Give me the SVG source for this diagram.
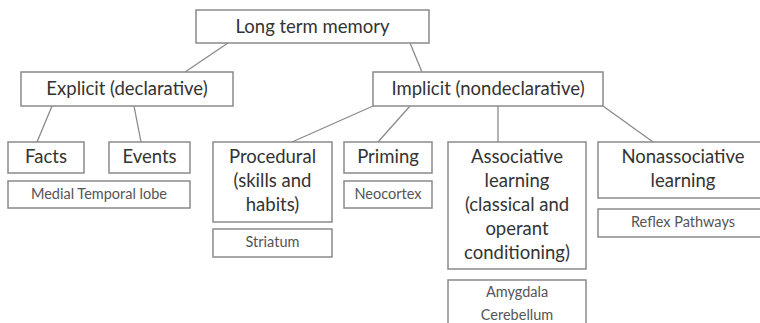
<svg xmlns="http://www.w3.org/2000/svg" width="760" height="323" viewBox="0 0 760 323">
<style>
.box{fill:#fff;stroke:#8a8a8a;stroke-width:1.5}
.t{font-family:Lato,"Open Sans",sans-serif;font-size:18.5px;fill:#333;text-anchor:middle}
.s{font-family:Lato,"Open Sans",sans-serif;font-size:14.5px;fill:#555;text-anchor:middle}
.c{stroke:#8a8a8a;stroke-width:1.3;fill:none}
</style>
<rect width="760" height="323" fill="#fff"/>
<g id="connectors">
<line class="c" x1="228" y1="43" x2="185" y2="72"/>
<line class="c" x1="410" y1="43" x2="422" y2="72"/>
<line class="c" x1="52" y1="106" x2="37" y2="142"/>
<line class="c" x1="134" y1="106" x2="141" y2="142"/>
<line class="c" x1="373" y1="106" x2="292" y2="142"/>
<line class="c" x1="410" y1="106" x2="378" y2="142"/>
<line class="c" x1="498" y1="106" x2="498" y2="142"/>
<line class="c" x1="603" y1="106" x2="653" y2="142"/>
</g>
<g id="ltm"><rect class="box" x="196" y="10" width="233" height="33"/><text class="t" x="312.5" y="33">Long term memory</text></g>
<g id="explicit"><rect class="box" x="21" y="72" width="212" height="34"/><text class="t" x="127" y="95">Explicit (declarative)</text></g>
<g id="implicit"><rect class="box" x="373" y="72" width="230" height="34"/><text class="t" x="488" y="95">Implicit (nondeclarative)</text></g>
<g id="facts"><rect class="box" x="8" y="142" width="76" height="31"/><text class="t" x="46" y="163">Facts</text></g>
<g id="events"><rect class="box" x="109" y="142" width="81" height="31"/><text class="t" x="149.5" y="163">Events</text></g>
<g id="mtl"><rect class="box" x="8" y="181" width="182" height="27"/><text class="s" x="99" y="199">Medial Temporal lobe</text></g>
<g id="procedural"><rect class="box" x="213" y="142" width="119" height="80"/><text class="t" x="272.5" y="163">Procedural</text><text class="t" x="272.5" y="187">(skills and</text><text class="t" x="272.5" y="211">habits)</text></g>
<g id="striatum"><rect class="box" x="213" y="229" width="119" height="28"/><text class="s" x="272.5" y="247">Striatum</text></g>
<g id="priming"><rect class="box" x="344" y="142" width="88" height="31"/><text class="t" x="388" y="163">Priming</text></g>
<g id="neocortex"><rect class="box" x="344" y="181" width="88" height="27"/><text class="s" x="388" y="199">Neocortex</text></g>
<g id="associative"><rect class="box" x="448" y="142" width="138" height="127"/><text class="t" x="517" y="163">Associative</text><text class="t" x="517" y="187">learning</text><text class="t" x="517" y="211">(classical and</text><text class="t" x="517" y="235">operant</text><text class="t" x="517" y="259">conditioning)</text></g>
<g id="amygdala"><rect class="box" x="448" y="280" width="138" height="50"/><text class="s" x="517" y="297">Amygdala</text><text class="s" x="517" y="320">Cerebellum</text></g>
<g id="nonassociative"><rect class="box" x="598" y="142" width="170" height="56"/><text class="t" x="683" y="163">Nonassociative</text><text class="t" x="683" y="187">learning</text></g>
<g id="reflex"><rect class="box" x="598" y="209" width="170" height="28"/><text class="s" x="683" y="227">Reflex Pathways</text></g>
</svg>
